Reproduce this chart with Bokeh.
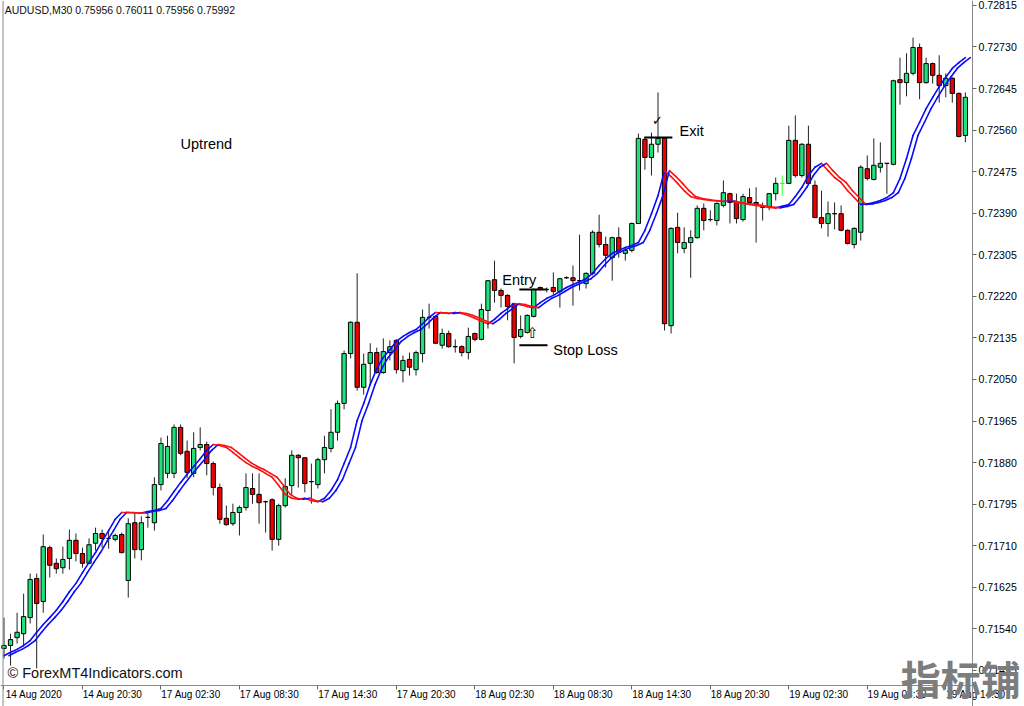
import numpy as np
from bokeh.plotting import figure
from bokeh.models import FixedTicker, Label, Range1d, PrintfTickFormatter, LinearAxis, Span
from bokeh.embed import file_html
from bokeh.resources import INLINE

# ---------------- data (AUDUSD M30) ----------------
opens = [0.71500,0.71506,0.71522,0.71530,0.71563,0.71643,0.71596,0.71706,0.71674,0.71665,
0.71684,0.71721,0.71694,0.71674,0.71715,0.71735,0.71725,0.71723,0.71733,0.71639,
0.71757,0.71702,0.71768,0.71757,0.71835,0.71858,0.71858,0.71952,0.71903,0.71858,
0.71911,0.71917,0.71878,0.71829,0.71766,0.71755,0.71778,0.71788,0.71827,0.71815,
0.71800,0.71804,0.71723,0.71792,0.71833,0.71895,0.71890,0.71841,0.71835,0.71886,
0.71909,0.71942,0.72001,0.72103,0.72167,0.72034,0.72083,0.72105,0.72064,0.72105,
0.72130,0.72068,0.72091,0.72070,0.72103,0.72177,0.72179,0.72120,0.72144,0.72117,
0.72117,0.72105,0.72144,0.72132,0.72191,0.72254,0.72232,0.72222,0.72205,0.72138,
0.72146,0.72179,0.72238,0.72234,0.72238,0.72230,0.72258,0.72258,0.72252,0.72246,
0.72267,0.72351,0.72326,0.72299,0.72340,0.72308,0.72314,0.72369,0.72541,0.72504,
0.72531,0.72543,0.72160,0.72361,0.72318,0.72330,0.72340,0.72400,0.72377,0.72375,
0.72406,0.72430,0.72412,0.72377,0.72422,0.72412,0.72402,0.72402,0.72430,0.72451,
0.72451,0.72539,0.72467,0.72531,0.72447,0.72381,0.72369,0.72389,0.72389,0.72355,
0.72326,0.72351,0.72481,0.72459,0.72484,0.72492,0.72490,0.72663,0.72657,0.72676,
0.72729,0.72657,0.72696,0.72672,0.72651,0.72666,0.72635,0.72549]
highs = [0.71563,0.71530,0.71573,0.71612,0.71653,0.71653,0.71733,0.71710,0.71684,0.71708,
0.71743,0.71735,0.71706,0.71725,0.71747,0.71743,0.71743,0.71735,0.71737,0.71766,
0.71776,0.71770,0.71776,0.71850,0.71931,0.71935,0.71958,0.71958,0.71925,0.71942,
0.71952,0.71923,0.71882,0.71837,0.71792,0.71796,0.71792,0.71858,0.71858,0.71858,
0.71802,0.71807,0.71796,0.71848,0.71905,0.71897,0.71890,0.71878,0.71890,0.71935,
0.71989,0.72007,0.72109,0.72169,0.72267,0.72103,0.72124,0.72115,0.72134,0.72130,
0.72132,0.72099,0.72105,0.72109,0.72193,0.72205,0.72181,0.72154,0.72150,0.72132,
0.72120,0.72156,0.72146,0.72205,0.72252,0.72293,0.72236,0.72224,0.72207,0.72181,
0.72183,0.72236,0.72240,0.72238,0.72269,0.72258,0.72261,0.72283,0.72346,0.72269,
0.72355,0.72387,0.72342,0.72342,0.72361,0.72320,0.72371,0.72553,0.72545,0.72555,
0.72637,0.72545,0.72361,0.72391,0.72361,0.72355,0.72406,0.72410,0.72396,0.72412,
0.72457,0.72432,0.72430,0.72430,0.72441,0.72443,0.72412,0.72430,0.72463,0.72467,
0.72569,0.72590,0.72533,0.72569,0.72457,0.72436,0.72414,0.72412,0.72406,0.72357,
0.72361,0.72488,0.72508,0.72543,0.72535,0.72492,0.72663,0.72708,0.72717,0.72749,
0.72737,0.72708,0.72698,0.72713,0.72676,0.72668,0.72637,0.72637]
lows = [0.71479,0.71465,0.71510,0.71506,0.71551,0.71459,0.71573,0.71645,0.71653,0.71653,
0.71661,0.71678,0.71665,0.71672,0.71700,0.71706,0.71704,0.71719,0.71694,0.71604,
0.71684,0.71680,0.71747,0.71741,0.71823,0.71848,0.71848,0.71895,0.71848,0.71850,
0.71905,0.71854,0.71813,0.71755,0.71751,0.71751,0.71731,0.71782,0.71796,0.71755,
0.71737,0.71700,0.71710,0.71788,0.71813,0.71829,0.71819,0.71796,0.71827,0.71858,
0.71901,0.71925,0.71989,0.72093,0.72027,0.72019,0.72038,0.72062,0.72062,0.72089,
0.72062,0.72044,0.72058,0.72058,0.72085,0.72154,0.72124,0.72113,0.72115,0.72105,
0.72097,0.72091,0.72128,0.72130,0.72154,0.72207,0.72197,0.72171,0.72083,0.72134,
0.72144,0.72177,0.72232,0.72228,0.72224,0.72197,0.72256,0.72201,0.72232,0.72236,
0.72263,0.72320,0.72279,0.72252,0.72299,0.72293,0.72310,0.72369,0.72479,0.72467,
0.72514,0.72150,0.72144,0.72308,0.72308,0.72258,0.72338,0.72355,0.72373,0.72365,
0.72402,0.72369,0.72369,0.72373,0.72410,0.72330,0.72375,0.72396,0.72416,0.72426,
0.72451,0.72463,0.72463,0.72447,0.72381,0.72359,0.72342,0.72357,0.72353,0.72326,
0.72318,0.72334,0.72457,0.72457,0.72473,0.72430,0.72488,0.72612,0.72629,0.72672,
0.72623,0.72655,0.72655,0.72616,0.72627,0.72616,0.72545,0.72535]
closes = [0.71506,0.71518,0.71533,0.71565,0.71641,0.71592,0.71708,0.71670,0.71663,0.71682,
0.71721,0.71694,0.71674,0.71712,0.71735,0.71725,0.71725,0.71731,0.71696,0.71755,
0.71702,0.71757,0.71768,0.71835,0.71919,0.71913,0.71952,0.71899,0.71860,0.71909,
0.71917,0.71878,0.71829,0.71764,0.71753,0.71778,0.71788,0.71829,0.71815,0.71798,
0.71800,0.71723,0.71792,0.71831,0.71895,0.71890,0.71837,0.71841,0.71886,0.71911,
0.71942,0.72001,0.72103,0.72167,0.72034,0.72081,0.72105,0.72064,0.72107,0.72117,
0.72070,0.72089,0.72075,0.72105,0.72177,0.72177,0.72124,0.72144,0.72117,0.72117,
0.72105,0.72138,0.72132,0.72193,0.72252,0.72232,0.72222,0.72199,0.72136,0.72152,
0.72181,0.72234,0.72234,0.72234,0.72230,0.72256,0.72258,0.72252,0.72252,0.72267,
0.72351,0.72326,0.72304,0.72340,0.72310,0.72314,0.72369,0.72543,0.72504,0.72531,
0.72543,0.72164,0.72359,0.72330,0.72330,0.72340,0.72400,0.72375,0.72377,0.72410,
0.72432,0.72412,0.72379,0.72424,0.72412,0.72408,0.72402,0.72430,0.72451,0.72451,
0.72539,0.72467,0.72531,0.72451,0.72381,0.72369,0.72389,0.72389,0.72355,0.72328,
0.72359,0.72484,0.72461,0.72488,0.72492,0.72492,0.72661,0.72657,0.72676,0.72729,
0.72657,0.72696,0.72672,0.72651,0.72666,0.72635,0.72547,0.72627]
ma_line = [0.71485,0.71492,0.71498,0.71506,0.71516,0.71533,0.71549,0.71563,0.71578,0.71596,
0.71616,0.71633,0.71655,0.71676,0.71696,0.71719,0.71741,0.71764,0.71778,0.71778,
0.71777,0.71777,0.71780,0.71782,0.71786,0.71802,0.71821,0.71839,0.71856,0.71872,
0.71888,0.71905,0.71917,0.71915,0.71911,0.71901,0.71890,0.71880,0.71872,0.71866,
0.71858,0.71850,0.71833,0.71815,0.71807,0.71805,0.71807,0.71802,0.71800,0.71807,
0.71823,0.71845,0.71878,0.71911,0.71966,0.72001,0.72040,0.72072,0.72095,0.72111,
0.72128,0.72138,0.72146,0.72152,0.72164,0.72177,0.72187,0.72186,0.72185,0.72187,
0.72185,0.72181,0.72175,0.72169,0.72164,0.72173,0.72185,0.72195,0.72205,0.72203,
0.72199,0.72197,0.72207,0.72216,0.72222,0.72230,0.72238,0.72244,0.72250,0.72256,
0.72267,0.72283,0.72297,0.72308,0.72314,0.72320,0.72324,0.72330,0.72355,0.72389,
0.72426,0.72477,0.72465,0.72451,0.72436,0.72424,0.72420,0.72418,0.72416,0.72415,
0.72414,0.72415,0.72412,0.72410,0.72408,0.72406,0.72404,0.72402,0.72401,0.72404,
0.72408,0.72424,0.72443,0.72467,0.72484,0.72492,0.72477,0.72463,0.72453,0.72436,
0.72422,0.72408,0.72409,0.72412,0.72416,0.72422,0.72432,0.72461,0.72502,0.72549,
0.72576,0.72604,0.72627,0.72649,0.72668,0.72686,0.72698,0.72708]
lime_bars = [119]

x_tick_bars = [0, 12, 24, 36, 48, 60, 72, 84, 96, 108, 120, 132, 144]
x_tick_labels = ["14 Aug 2020", "14 Aug 20:30", "17 Aug 02:30", "17 Aug 08:30",
                 "17 Aug 14:30", "17 Aug 20:30", "18 Aug 02:30", "18 Aug 08:30",
                 "18 Aug 14:30", "18 Aug 20:30", "19 Aug 02:30", "19 Aug 08:30",
                 "19 Aug 14:30"]
y_ticks = [0.71455, 0.71540, 0.71625, 0.71710, 0.71795, 0.71880, 0.71965, 0.72050,
           0.72135, 0.72220, 0.72305, 0.72390, 0.72475, 0.72560, 0.72645, 0.72730, 0.72815]

entry_price, stop_price, exit_price = 0.72234, 0.72120, 0.72545
header = "AUDUSD,M30  0.75956 0.76011 0.75956 0.75992"

# ---------------- figure ----------------
FONT = "Liberation Sans"
GREEN = "#1fe27d"
RED = "#ee0000"
BLUE = "#0a0aff"
MARED = "#ff1010"
GRAY = "#8a8a8a"

# the price scale sits on the right edge of the candle area, the time scale on its bottom
PRICE_AXIS_AT = 148.09      # bar position of the price scale line
TIME_AXIS_AT = 0.714242     # price level of the time scale line

p = figure(frame_width=1024, frame_height=706, output_backend="svg", toolbar_location=None,
           x_range=Range1d(-0.535, 156.04), y_range=Range1d(0.713812, 0.72825),
           y_axis_location="right", min_border_left=0, min_border_top=0,
           min_border_right=0, min_border_bottom=0)
p.xgrid.visible = False
p.ygrid.visible = False
p.background_fill_color = "white"
p.border_fill_color = "white"
p.outline_line_color = None

# time axis: line + tick marks
p.xaxis.fixed_location = TIME_AXIS_AT
p.xaxis.bounds = (-0.535, PRICE_AXIS_AT)
p.xaxis.ticker = FixedTicker(ticks=x_tick_bars)
p.xaxis.major_label_text_color = None
p.xaxis.major_label_text_font_size = "10px"
p.xaxis.axis_line_color = GRAY
p.xaxis.major_tick_line_color = "#666666"
p.xaxis.major_tick_in = 0
p.xaxis.major_tick_out = 4
p.xaxis.minor_tick_line_color = None

# time axis labels, each starting at its tick (MT4 style)
label_shift = 4.6
lab_ticks = [b + label_shift for b in x_tick_bars]
xlab = LinearAxis(fixed_location=TIME_AXIS_AT, ticker=FixedTicker(ticks=lab_ticks),
                  major_label_overrides={t: l for t, l in zip(lab_ticks, x_tick_labels)},
                  axis_line_color=None, major_tick_line_color=None, minor_tick_line_color=None,
                  major_tick_in=0, major_tick_out=0, major_label_standoff=4,
                  major_label_text_font=FONT, major_label_text_font_size="10px",
                  major_label_text_color="#000000")
p.add_layout(xlab, "below")

# price axis
p.yaxis.fixed_location = PRICE_AXIS_AT
p.yaxis.ticker = FixedTicker(ticks=y_ticks)
p.yaxis.formatter = PrintfTickFormatter(format="%.5f")
p.yaxis.major_label_text_font = FONT
p.yaxis.major_label_text_font_size = "10.6px"
p.yaxis.major_label_text_color = "#000000"
p.yaxis.axis_line_color = GRAY
p.yaxis.major_tick_line_color = "#666666"
p.yaxis.major_tick_in = 0
p.yaxis.major_tick_out = 4
p.yaxis.minor_tick_line_color = None
p.yaxis.major_label_standoff = 2

# left border of the chart window
p.add_layout(Span(location=-0.15, dimension="height", line_color=GRAY, line_width=1))

# ---------------- candles ----------------
n = len(opens)
idx = np.arange(n)
o = np.array(opens); c = np.array(closes)
fill = [GREEN if cc > oo else (RED if cc < oo else "white") for oo, cc in zip(o, c)]
edge = ["#000000"] * n
wick = ["#222222"] * n
for b in lime_bars:
    edge[b] = "#33ff33"
    wick[b] = "#33ff33"
p.segment(x0=idx, y0=lows, x1=idx, y1=highs, line_color=wick, line_width=1)
p.vbar(x=idx, width=0.66, top=np.maximum(o, c), bottom=np.minimum(o, c),
       fill_color=fill, line_color=edge, line_width=1)

# ---------------- double MA ribbon ----------------
ma = np.array(ma_line)
seg_col = [BLUE if ma[k] > ma[k - 1] else MARED for k in range(1, n)]
for lag in (0.0, 0.75):
    p.segment(x0=idx[:-1] + lag, y0=ma[:-1], x1=idx[1:] + lag, y1=ma[1:],
              line_color=seg_col, line_width=1.6, line_cap="round")

# ---------------- trade annotations ----------------
p.segment(x0=[78.8, 78.8, 97.9], x1=[83.1, 83.1, 102.2],
          y0=[entry_price, stop_price, exit_price], y1=[entry_price, stop_price, exit_price],
          line_color="black", line_width=2)

def lab(x, y, text, size, **kw):
    p.add_layout(Label(x=x, y=y, text=text, text_font=kw.pop("font", FONT),
                       text_font_size=size, text_baseline=kw.pop("baseline", "middle"),
                       text_color=kw.pop("color", "#000000"), **kw))

lab(27.0, 0.72531, "Uptrend", "14.5px")
lab(76.2, 0.72254, "Entry", "14.5px")
lab(84.0, 0.72111, "Stop Loss", "14.5px")
lab(103.3, 0.72559, "Exit", "14.5px")
lab(80.8, 0.72146, "\u21e7", "15px", font="DejaVu Sans", text_align="center")
lab(99.9, 0.72580, "\u2713", "13px", font="DejaVu Sans", text_align="center")
lab(0.1, 0.72805, header, "10.5px", color="#111111")
lab(0.54, 0.71449, "\u00a9 ForexMT4Indicators.com", "14.5px", color="#111111")
# site watermark over the corner of the two scales
lab(137.1, 0.714978, "\u6307\u6807\u94fa", "40px", font="Noto Sans CJK SC",
    baseline="top", color="#7d7d7d", text_font_style="bold")

open("out.html", "w").write(file_html(p, INLINE))
